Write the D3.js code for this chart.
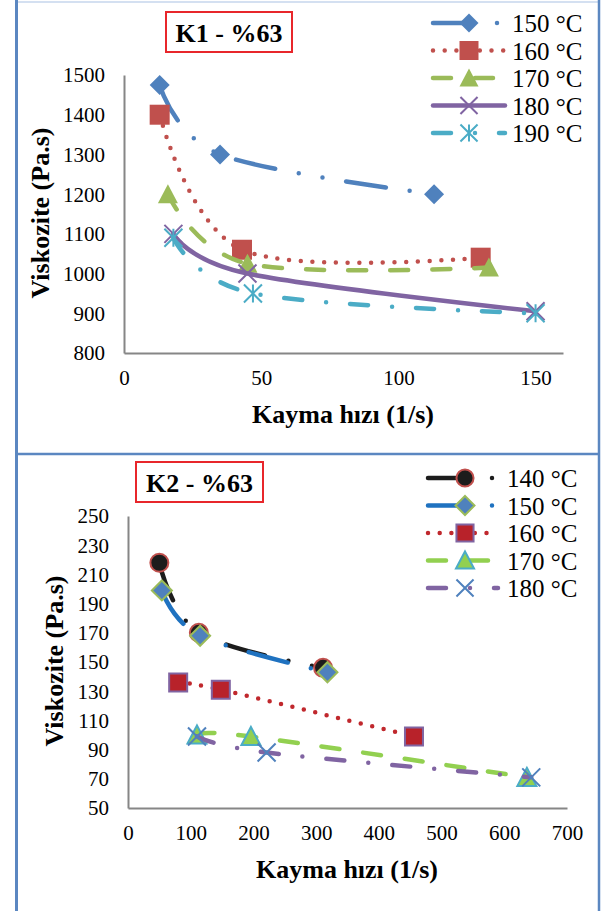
<!DOCTYPE html>
<html lang="tr">
<head>
<meta charset="UTF-8">
<title>Viskozite - Kayma hızı</title>
<style>
  body { margin: 0; background: #fff; }
  svg { display: block; }
  text { font-family: "Liberation Serif", "Times New Roman", "DejaVu Serif", serif; fill: #000; }
</style>
</head>
<body>
<script src="https://cdn.jsdelivr.net/npm/d3@7"></script>
<script>
    // K1 - %63
    const k1Temps = ["150 °C", "160 °C", "170 °C", "180 °C", "190 °C"];
    const k1Shear = [[13, 35, 113], [13, 43, 130], [16, 45, 133], [18, 45, 150], [18, 47, 150]];
    const k1Visc = [[1475, 1300, 1200], [1400, 1060, 1040], [1200, 1025, 1015], [1100, 1000, 905], [1090, 950, 900]];
    const k1XTicks = [0, 50, 100, 150];
    const k1YTicks = [800, 900, 1000, 1100, 1200, 1300, 1400, 1500];

    // K2 - %63
    const k2Temps = ["140 °C", "150 °C", "160 °C", "170 °C", "180 °C"];
    const k2Shear = [[50, 113, 311], [54, 115, 318], [80, 148, 456], [110, 196, 636], [110, 221, 643]];
    const k2Visc = [[218, 170, 146], [199, 168, 143], [136, 131, 99], [100, 99, 71], [99, 88, 71]];
    const k2XTicks = [0, 100, 200, 300, 400, 500, 600, 700];
    const k2YTicks = [50, 70, 90, 110, 130, 150, 170, 190, 210, 230, 250];

    // dash patterns (round caps)
    const dashDotDot = "40,24,0,24,0,24";
    const dashDot = "18,24,0,24";
    const dotted = "0,11.7";
    const dashed = "18,24";

    const k1Styles = [
        {line: "#4f81bd", dash: dashDotDot, marker: "diamond", fill: "#4f81bd", stroke: "none", size: 10},
        {line: "#c0504d", dash: dotted, marker: "square", fill: "#c0504d", stroke: "none", size: 10},
        {line: "#9bbb59", dash: dashed, marker: "triangle", fill: "#9bbb59", stroke: "none", size: 10},
        {line: "#8064a2", dash: null, marker: "x", fill: "none", stroke: "#8064a2", size: 9},
        {line: "#4bacc6", dash: dashDot, marker: "star", fill: "none", stroke: "#4bacc6", size: 9}
    ];
    const k2Styles = [
        {line: "#1c1c1c", dash: dashDotDot, marker: "circle", fill: "#1c1c1c", stroke: "#c0504d", size: 9},
        {line: "#1f72c0", dash: dashDotDot, marker: "diamond", fill: "#4f81bd", stroke: "#9bbb59", size: 10},
        {line: "#c0282d", dash: dotted, marker: "square", fill: "#b8222a", stroke: "#8064a2", size: 9},
        {line: "#92d050", dash: dashed, marker: "triangle", fill: "#92d050", stroke: "#4bacc6", size: 9.5},
        {line: "#8064a2", dash: dashDot, marker: "x", fill: "none", stroke: "#4f81bd", size: 9}
    ];

    function markerPath(type, s) {
        const p = d3.path();
        if (type === "diamond") {
            p.moveTo(0, -s); p.lineTo(s, 0); p.lineTo(0, s); p.lineTo(-s, 0); p.closePath();
        } else if (type === "square") {
            p.rect(-s, -s, 2 * s, 2 * s);
        } else if (type === "triangle") {
            p.moveTo(0, -s); p.lineTo(s, s * 0.9); p.lineTo(-s, s * 0.9); p.closePath();
        } else if (type === "circle") {
            p.arc(0, 0, s, 0, 2 * Math.PI);
        } else {
            p.moveTo(-s, -s); p.lineTo(s, s); p.moveTo(-s, s); p.lineTo(s, -s);
            if (type === "star") { p.moveTo(0, -s); p.lineTo(0, s); }
        }
        return p.toString();
    }

    var svg = d3.select("body").append("svg")
        .attr("width", 604)
        .attr("height", 911);

    // frame
    svg.append("line").attr("x1", 16).attr("x2", 599).attr("y1", 2).attr("y2", 2)
        .attr("stroke", "#c6d6ec").attr("stroke-width", 1.5);
    svg.append("line").attr("x1", 16.5).attr("x2", 16.5).attr("y1", 0).attr("y2", 911)
        .attr("stroke", "#5b87c1").attr("stroke-width", 3);
    svg.append("line").attr("x1", 599).attr("x2", 599).attr("y1", 0).attr("y2", 911)
        .attr("stroke", "#5b87c1").attr("stroke-width", 2.5);
    svg.append("line").attr("x1", 16).attr("x2", 600).attr("y1", 454).attr("y2", 454)
        .attr("stroke", "#5b87c1").attr("stroke-width", 2.5);

    function drawPanel(o) {
        var g = svg.append("g");
        var x = d3.scaleLinear().domain(o.xDomain).range(o.xRange);
        var y = d3.scaleLinear().domain(o.yDomain).range(o.yRange);

        // axes
        var xAxis = g.append("g").attr("transform", `translate(0,${o.yRange[0]})`)
            .call(d3.axisBottom(x).tickValues(o.xTicks).tickFormat(d3.format("d")).tickSize(0).tickPadding(17));
        var yAxis = g.append("g").attr("transform", `translate(${o.xRange[0]},0)`)
            .call(d3.axisLeft(y).tickValues(o.yTicks).tickFormat(d3.format("d")).tickSize(0).tickPadding(19));
        [xAxis, yAxis].forEach(a => {
            a.attr("font-family", null);
            a.select(".domain").attr("stroke", "#868686").attr("stroke-width", 2);
            a.selectAll("text").attr("font-size", 21).attr("fill", "#000");
        });
        yAxis.selectAll("text").attr("dy", "0.33em");

        // axis titles
        g.append("text")
            .attr("x", o.xLabelPos[0]).attr("y", o.xLabelPos[1])
            .attr("text-anchor", "middle").attr("font-size", 26).attr("font-weight", "bold")
            .text("Kayma hızı (1/s)");
        g.append("text")
            .attr("transform", `translate(${o.yLabelPos[0]},${o.yLabelPos[1]}) rotate(-90)`)
            .attr("text-anchor", "middle").attr("font-size", 26).attr("font-weight", "bold")
            .text("Viskozite (Pa.s)");

        // title box
        g.append("rect")
            .attr("x", o.titleBox[0]).attr("y", o.titleBox[1])
            .attr("width", o.titleBox[2]).attr("height", o.titleBox[3])
            .attr("fill", "#fff").attr("stroke", "#e8262b").attr("stroke-width", 2);
        g.append("text")
            .attr("x", o.titleBox[0] + o.titleBox[2] / 2).attr("y", o.titleBox[1] + 30)
            .attr("text-anchor", "middle").attr("font-size", 26).attr("font-weight", "bold")
            .text(o.title);

        var line = d3.line()
            .x(d => x(d[0]))
            .y(d => y(d[1]))
            .curve(d3.curveCardinal.tension(0));

        // series
        o.temps.forEach((t, i) => {
            var st = o.styles[i];
            var pts = o.shear[i].map((v, j) => [v, o.visc[i][j]]);
            g.append("path")
                .attr("d", line(pts))
                .attr("fill", "none")
                .attr("stroke", st.line)
                .attr("stroke-width", 4.5)
                .attr("stroke-linecap", "round")
                .attr("stroke-dasharray", st.dash);
            g.selectAll(null)
                .data(pts)
                .join("path")
                    .attr("transform", d => `translate(${x(d[0])},${y(d[1])})`)
                    .attr("d", markerPath(st.marker, st.size))
                    .attr("fill", st.fill)
                    .attr("stroke", st.stroke)
                    .attr("stroke-width", 2);
        });

        // legend
        var lg = g.append("g");
        o.temps.forEach((t, i) => {
            var st = o.styles[i];
            var ry = o.legend.y + i * 27.5;
            lg.append("line")
                .attr("x1", o.legend.x1).attr("x2", o.legend.x2)
                .attr("y1", ry).attr("y2", ry)
                .attr("stroke", st.line).attr("stroke-width", 4.5)
                .attr("stroke-linecap", "round")
                .attr("stroke-dasharray", st.dash);
            lg.append("path")
                .attr("transform", `translate(${o.legend.mx},${ry})`)
                .attr("d", markerPath(st.marker, st.size * 0.95))
                .attr("fill", st.fill)
                .attr("stroke", st.stroke)
                .attr("stroke-width", 2);
            lg.append("text")
                .attr("x", o.legend.tx).attr("y", ry + 9)
                .attr("font-size", 25)
                .text(t);
        });
    }

    drawPanel({
        title: "K1 - %63",
        titleBox: [166, 12, 126, 40],
        xDomain: [0, 160], xRange: [124, 563],
        yDomain: [800, 1500], yRange: [353, 75],
        xTicks: k1XTicks, yTicks: k1YTicks,
        xLabelPos: [343, 423], yLabelPos: [49, 213],
        temps: k1Temps, shear: k1Shear, visc: k1Visc, styles: k1Styles,
        legend: {y: 23, x1: 433, x2: 505, mx: 469, tx: 512}
    });

    drawPanel({
        title: "K2 - %63",
        titleBox: [136, 462, 127, 40],
        xDomain: [0, 700], xRange: [128, 567],
        yDomain: [50, 250], yRange: [808, 516],
        xTicks: k2XTicks, yTicks: k2YTicks,
        xLabelPos: [347, 878], yLabelPos: [63, 661],
        temps: k2Temps, shear: k2Shear, visc: k2Visc, styles: k2Styles,
        legend: {y: 478, x1: 428, x2: 498, mx: 465, tx: 507}
    });
</script>
</body>
</html>
